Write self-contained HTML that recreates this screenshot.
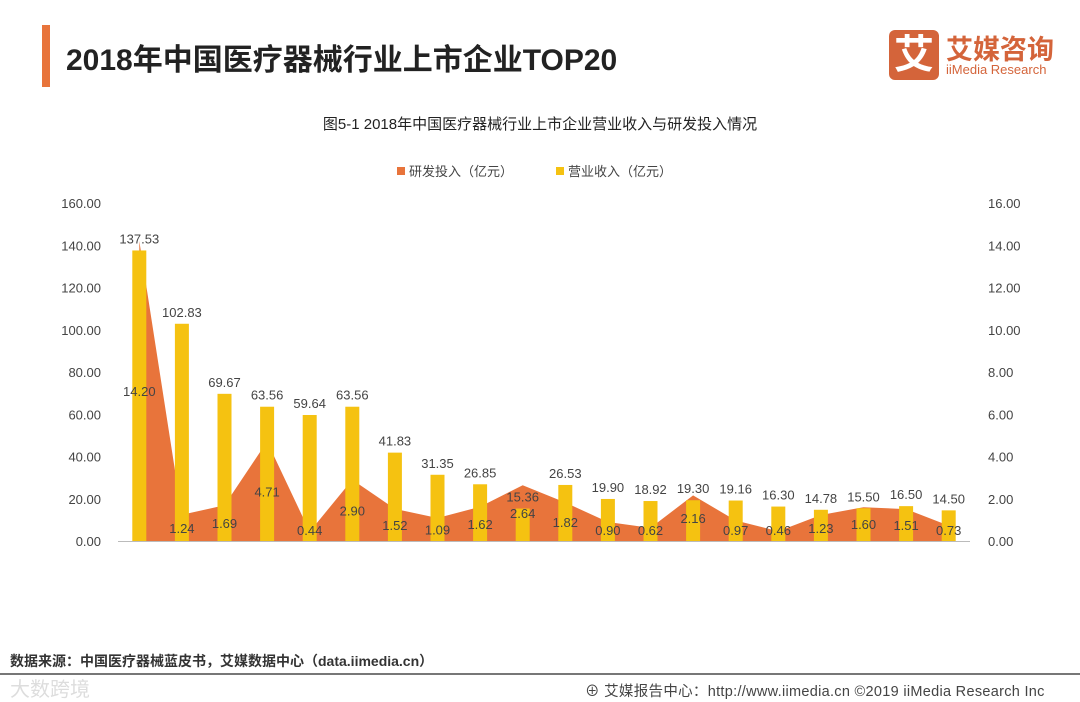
<!DOCTYPE html>
<html><head><meta charset="utf-8"><style>
body{margin:0;width:1080px;height:702px;background:#fff;font-family:"Liberation Sans","Noto Sans CJK SC",sans-serif;position:relative;overflow:hidden}
.a{position:absolute}
</style></head><body>
<div class="a" style="left:42px;top:25px;width:8px;height:62px;background:#e8743b"></div>
<div class="a" style="left:66px;top:35px;font-size:30px;font-weight:bold;color:#222">2018年中国医疗器械行业上市企业TOP20</div>
<div class="a" style="left:889px;top:30px;width:50px;height:50px;background:#d4643a;border-radius:6px;color:#fff;font-size:40px;font-weight:bold;text-align:center;line-height:50px">艾</div>
<div class="a" style="left:946px;top:28px;color:#d4643a;font-size:27px;font-weight:bold">艾媒咨询</div>
<div class="a" style="left:946px;top:62px;color:#d4643a;font-size:13px">iiMedia Research</div>
<svg class="a" style="left:0;top:0" width="1080" height="702" id="chart"></svg>
<div class="a" style="left:10px;top:651px;font-size:14px;color:#333;font-weight:bold">数据来源：中国医疗器械蓝皮书，艾媒数据中心（data.iimedia.cn）</div>
<div class="a" style="left:0;top:673px;width:1080px;height:2px;background:#777"></div>
<div class="a" style="left:10px;top:673px;font-size:20px;color:#ddd">大数跨境</div>
<div class="a" style="left:585px;top:680px;font-size:14.5px;color:#444;letter-spacing:0.3px">⊕ 艾媒报告中心：http://www.iimedia.cn ©2019 iiMedia Research Inc</div>
<script>
const revenue=[137.53,102.83,69.67,63.56,59.64,63.56,41.83,31.35,26.85,15.36,26.53,19.90,18.92,19.30,19.16,16.30,14.78,15.50,16.50,14.50];
const rd=[14.20,1.24,1.69,4.71,0.44,2.90,1.52,1.09,1.62,2.64,1.82,0.90,0.62,2.16,0.97,0.46,1.23,1.60,1.51,0.73];
const leftTicks=[0,20,40,60,80,100,120,140,160];
const rightTicks=[0,2,4,6,8,10,12,14,16];
const svg=document.getElementById('chart');const NS='http://www.w3.org/2000/svg';
const X0=118,X1=970,Y0=541,Y1=203;
const band=(X1-X0)/revenue.length;
const xc=i=>X0+band*(i+0.5);
const yL=v=>Y0-(v/160)*(Y0-Y1);
const yR=v=>Y0-(v/16)*(Y0-Y1);
function mk(t,a,txt){const e=document.createElementNS(NS,t);for(const k in a)e.setAttribute(k,a[k]);if(txt!=null)e.textContent=txt;svg.appendChild(e);return e;}
let e;
e=mk('text',{x:540,y:129,'text-anchor':'middle','font-size':15,fill:'#222'},'图5-1 2018年中国医疗器械行业上市企业营业收入与研发投入情况');


e=mk('rect',{x:397,y:167,width:8,height:8,fill:'#e8743b'});


e=mk('text',{x:409,y:176,'font-size':13,fill:'#444'},'研发投入（亿元）');


e=mk('rect',{x:556,y:167,width:8,height:8,fill:'#f5c211'});


e=mk('text',{x:568,y:176,'font-size':13,fill:'#444'},'营业收入（亿元）');


leftTicks.forEach(v=>{e=mk('text',{x:101,y:yL(v)+5,'text-anchor':'end','font-size':13,fill:'#444'},v.toFixed(2));

});
rightTicks.forEach(v=>{e=mk('text',{x:988,y:yR(v)+5,'font-size':13,fill:'#444'},v.toFixed(2));

});
let d='M'+xc(0)+','+Y0;rd.forEach((v,i)=>d+=' L'+xc(i)+','+yR(v));d+=' L'+xc(rd.length-1)+','+Y0+' Z';
e=mk('path',{d:d,fill:'#e8743b'});


e=mk('line',{x1:X0,x2:X1,y1:Y0+0.5,y2:Y0+0.5,stroke:'#bbb'});


revenue.forEach((v,i)=>{e=mk('rect',{x:xc(i)-7,y:yL(v),width:14,height:Y0-yL(v),fill:'#f5c211'});


e=mk('text',{x:xc(i),y:yL(v)-7,'text-anchor':'middle','font-size':13,fill:'#444'},v.toFixed(2));

});
rd.forEach((v,i)=>{const y=Math.min(yR(v/2)+5,535);e=mk('text',{x:xc(i),y:y,'text-anchor':'middle','font-size':13,fill:'#444'},v.toFixed(2));

});
</script>
</body></html>
